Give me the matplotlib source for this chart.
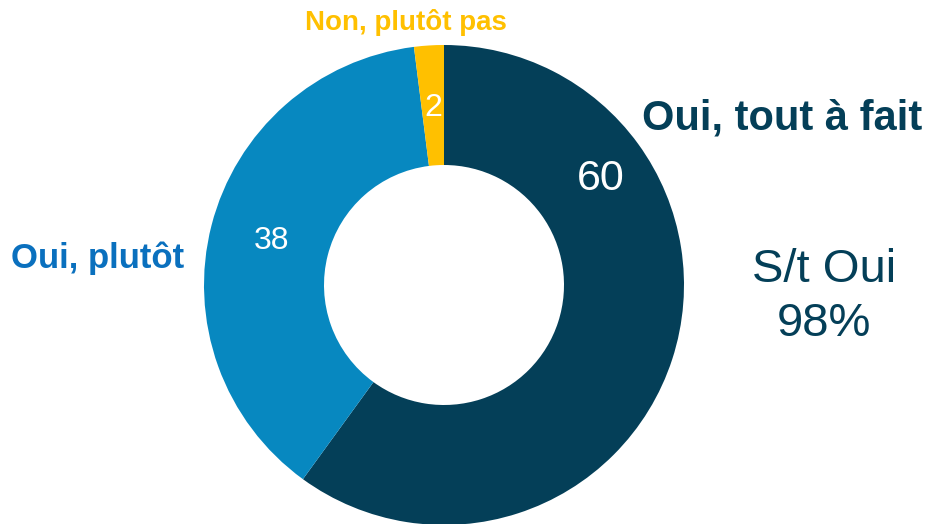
import numpy as np
import matplotlib.pyplot as plt

plt.rcParams["font.family"] = ["Liberation Sans", "DejaVu Sans"]

categories = ["Oui, tout à fait", "Oui, plutôt", "Non, plutôt pas"]
values = [60, 38, 2]
colors = ["#043F58", "#0788C0", "#FFC000"]
label_colors = ["#043F58", "#0A70BE", "#FFC000"]

W, H = 928, 524
fig = plt.figure(figsize=(W / 100, H / 100), dpi=100)
ax = fig.add_axes([0, 0, 1, 1])

cx, cy, R = 444, H - 285, 240
wedges, _ = ax.pie(
    values,
    colors=colors,
    startangle=90,
    counterclock=False,
    radius=R,
    center=(cx, cy),
    frame=True,
    wedgeprops=dict(width=R * 0.5, linewidth=0),
)
ax.set_xlim(0, W)
ax.set_ylim(0, H)
ax.set_aspect("equal")
ax.axis("off")

# numbers inside the ring
for i, w in enumerate(wedges):
    ang = np.deg2rad((w.theta1 + w.theta2) / 2)
    r = 0.74 * R
    size = 23
    if i == 0:  # first value sits higher up in the reference
        ang = np.deg2rad(34)
        r = 0.79 * R
        size = 31
    x, y = cx + r * np.cos(ang), cy + r * np.sin(ang)
    ax.text(x, y, str(values[i]), color="white", fontsize=size,
            ha="center", va="center")

# category labels
ax.text(782, H - 118, categories[0], color=label_colors[0], fontsize=30,
        fontweight="bold", ha="center", va="center")
ax.text(98, H - 258, categories[1], color=label_colors[1], fontsize=25,
        fontweight="bold", ha="center", va="center")
ax.text(406, H - 22, categories[2], color=label_colors[2], fontsize=20,
        fontweight="bold", ha="center", va="center")

ax.text(824, H - 297, "S/t Oui\n98%", color="#043F58", fontsize=34,
        ha="center", va="center", linespacing=1.3)

fig.savefig("out.png", dpi=100)
